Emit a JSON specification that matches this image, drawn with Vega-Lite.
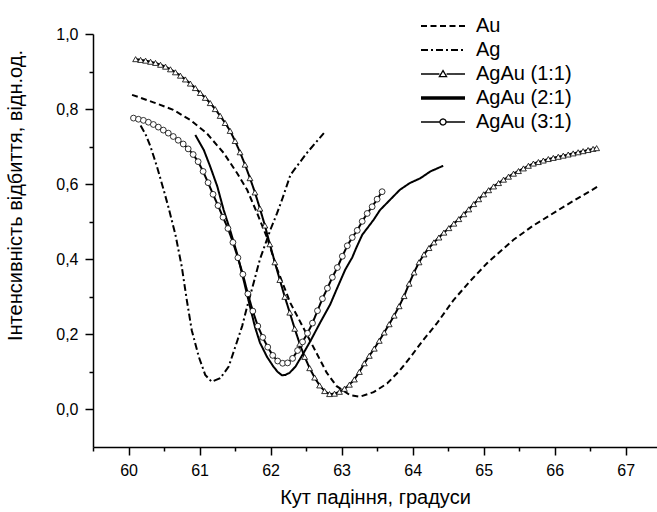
{
  "$schema": "https://vega.github.io/schema/vega-lite/v6.json",
  "autosize": "none",
  "width": 564,
  "height": 413,
  "padding": {"left": 93, "top": 34, "right": 0, "bottom": 65},
  "background": "white",
  "config": {
    "view": {"stroke": null},
    "font": "Liberation Sans",
    "axis": {"grid": false, "domainColor": "black", "domainWidth": 1.5, "tickColor": "black", "tickWidth": 1.5, "labelColor": "black", "titleColor": "black", "labelFont": "Liberation Sans", "titleFont": "Liberation Sans", "labelFontSize": 16, "titleFontSize": 20, "titleFontWeight": "normal", "labelPadding": 7}
  },
  "data": {"values": [
    {"s": "Au", "x": 60.05, "y": 0.838}, {"s": "Au", "x": 60.35, "y": 0.818}, {"s": "Au", "x": 60.63, "y": 0.798}, {"s": "Au", "x": 60.87, "y": 0.771}, {"s": "Au", "x": 61.10, "y": 0.736}, {"s": "Au", "x": 61.34, "y": 0.683}, {"s": "Au", "x": 61.53, "y": 0.629}, {"s": "Au", "x": 61.67, "y": 0.585}, {"s": "Au", "x": 61.81, "y": 0.523}, {"s": "Au", "x": 61.95, "y": 0.458}, {"s": "Au", "x": 62.09, "y": 0.375}, {"s": "Au", "x": 62.28, "y": 0.283}, {"s": "Au", "x": 62.46, "y": 0.218}, {"s": "Au", "x": 62.65, "y": 0.149}, {"s": "Au", "x": 62.79, "y": 0.098}, {"s": "Au", "x": 62.93, "y": 0.062}, {"s": "Au", "x": 63.12, "y": 0.038}, {"s": "Au", "x": 63.26, "y": 0.034}, {"s": "Au", "x": 63.45, "y": 0.046}, {"s": "Au", "x": 63.64, "y": 0.069}, {"s": "Au", "x": 63.82, "y": 0.104}, {"s": "Au", "x": 63.97, "y": 0.140}, {"s": "Au", "x": 64.15, "y": 0.185}, {"s": "Au", "x": 64.34, "y": 0.229}, {"s": "Au", "x": 64.57, "y": 0.290}, {"s": "Au", "x": 64.80, "y": 0.340}, {"s": "Au", "x": 65.05, "y": 0.390}, {"s": "Au", "x": 65.42, "y": 0.452}, {"s": "Au", "x": 65.70, "y": 0.490}, {"s": "Au", "x": 66.17, "y": 0.545}, {"s": "Au", "x": 66.60, "y": 0.593},

    {"s": "Ag", "x": 60.17, "y": 0.756}, {"s": "Ag", "x": 60.24, "y": 0.733}, {"s": "Ag", "x": 60.31, "y": 0.700}, {"s": "Ag", "x": 60.40, "y": 0.647}, {"s": "Ag", "x": 60.49, "y": 0.588}, {"s": "Ag", "x": 60.56, "y": 0.540}, {"s": "Ag", "x": 60.66, "y": 0.466}, {"s": "Ag", "x": 60.75, "y": 0.380}, {"s": "Ag", "x": 60.82, "y": 0.292}, {"s": "Ag", "x": 60.89, "y": 0.211}, {"s": "Ag", "x": 60.99, "y": 0.140}, {"s": "Ag", "x": 61.08, "y": 0.092}, {"s": "Ag", "x": 61.17, "y": 0.074}, {"s": "Ag", "x": 61.29, "y": 0.083}, {"s": "Ag", "x": 61.41, "y": 0.114}, {"s": "Ag", "x": 61.50, "y": 0.165}, {"s": "Ag", "x": 61.60, "y": 0.222}, {"s": "Ag", "x": 61.67, "y": 0.274}, {"s": "Ag", "x": 61.76, "y": 0.336}, {"s": "Ag", "x": 61.85, "y": 0.400}, {"s": "Ag", "x": 62.00, "y": 0.480}, {"s": "Ag", "x": 62.09, "y": 0.522}, {"s": "Ag", "x": 62.16, "y": 0.558}, {"s": "Ag", "x": 62.28, "y": 0.625}, {"s": "Ag", "x": 62.51, "y": 0.683}, {"s": "Ag", "x": 62.75, "y": 0.736},

    {"s": "AgAu (1:1)", "x": 60.10, "y": 0.933}, {"s": "AgAu (1:1)", "x": 60.17, "y": 0.931}, {"s": "AgAu (1:1)", "x": 60.24, "y": 0.929}, {"s": "AgAu (1:1)", "x": 60.31, "y": 0.926}, {"s": "AgAu (1:1)", "x": 60.38, "y": 0.923}, {"s": "AgAu (1:1)", "x": 60.45, "y": 0.918}, {"s": "AgAu (1:1)", "x": 60.52, "y": 0.913}, {"s": "AgAu (1:1)", "x": 60.59, "y": 0.906}, {"s": "AgAu (1:1)", "x": 60.66, "y": 0.898}, {"s": "AgAu (1:1)", "x": 60.73, "y": 0.889}, {"s": "AgAu (1:1)", "x": 60.80, "y": 0.879}, {"s": "AgAu (1:1)", "x": 60.87, "y": 0.868}, {"s": "AgAu (1:1)", "x": 60.94, "y": 0.856}, {"s": "AgAu (1:1)", "x": 61.01, "y": 0.843}, {"s": "AgAu (1:1)", "x": 61.08, "y": 0.830}, {"s": "AgAu (1:1)", "x": 61.15, "y": 0.816}, {"s": "AgAu (1:1)", "x": 61.22, "y": 0.800}, {"s": "AgAu (1:1)", "x": 61.29, "y": 0.782}, {"s": "AgAu (1:1)", "x": 61.36, "y": 0.763}, {"s": "AgAu (1:1)", "x": 61.43, "y": 0.742}, {"s": "AgAu (1:1)", "x": 61.50, "y": 0.715}, {"s": "AgAu (1:1)", "x": 61.57, "y": 0.685}, {"s": "AgAu (1:1)", "x": 61.64, "y": 0.652}, {"s": "AgAu (1:1)", "x": 61.71, "y": 0.616}, {"s": "AgAu (1:1)", "x": 61.78, "y": 0.578}, {"s": "AgAu (1:1)", "x": 61.85, "y": 0.535}, {"s": "AgAu (1:1)", "x": 61.92, "y": 0.490}, {"s": "AgAu (1:1)", "x": 61.99, "y": 0.440}, {"s": "AgAu (1:1)", "x": 62.06, "y": 0.392}, {"s": "AgAu (1:1)", "x": 62.13, "y": 0.345}, {"s": "AgAu (1:1)", "x": 62.20, "y": 0.300}, {"s": "AgAu (1:1)", "x": 62.27, "y": 0.258}, {"s": "AgAu (1:1)", "x": 62.34, "y": 0.215}, {"s": "AgAu (1:1)", "x": 62.41, "y": 0.175}, {"s": "AgAu (1:1)", "x": 62.48, "y": 0.140}, {"s": "AgAu (1:1)", "x": 62.55, "y": 0.110}, {"s": "AgAu (1:1)", "x": 62.62, "y": 0.085}, {"s": "AgAu (1:1)", "x": 62.69, "y": 0.064}, {"s": "AgAu (1:1)", "x": 62.76, "y": 0.049}, {"s": "AgAu (1:1)", "x": 62.83, "y": 0.041}, {"s": "AgAu (1:1)", "x": 62.90, "y": 0.042}, {"s": "AgAu (1:1)", "x": 62.97, "y": 0.047}, {"s": "AgAu (1:1)", "x": 63.04, "y": 0.055}, {"s": "AgAu (1:1)", "x": 63.11, "y": 0.066}, {"s": "AgAu (1:1)", "x": 63.18, "y": 0.080}, {"s": "AgAu (1:1)", "x": 63.25, "y": 0.100}, {"s": "AgAu (1:1)", "x": 63.32, "y": 0.123}, {"s": "AgAu (1:1)", "x": 63.39, "y": 0.143}, {"s": "AgAu (1:1)", "x": 63.46, "y": 0.162}, {"s": "AgAu (1:1)", "x": 63.53, "y": 0.183}, {"s": "AgAu (1:1)", "x": 63.60, "y": 0.205}, {"s": "AgAu (1:1)", "x": 63.67, "y": 0.227}, {"s": "AgAu (1:1)", "x": 63.74, "y": 0.250}, {"s": "AgAu (1:1)", "x": 63.81, "y": 0.275}, {"s": "AgAu (1:1)", "x": 63.88, "y": 0.302}, {"s": "AgAu (1:1)", "x": 63.95, "y": 0.335}, {"s": "AgAu (1:1)", "x": 64.02, "y": 0.365}, {"s": "AgAu (1:1)", "x": 64.09, "y": 0.392}, {"s": "AgAu (1:1)", "x": 64.16, "y": 0.413}, {"s": "AgAu (1:1)", "x": 64.23, "y": 0.430}, {"s": "AgAu (1:1)", "x": 64.30, "y": 0.445}, {"s": "AgAu (1:1)", "x": 64.37, "y": 0.458}, {"s": "AgAu (1:1)", "x": 64.44, "y": 0.471}, {"s": "AgAu (1:1)", "x": 64.51, "y": 0.483}, {"s": "AgAu (1:1)", "x": 64.58, "y": 0.495}, {"s": "AgAu (1:1)", "x": 64.65, "y": 0.507}, {"s": "AgAu (1:1)", "x": 64.72, "y": 0.520}, {"s": "AgAu (1:1)", "x": 64.79, "y": 0.533}, {"s": "AgAu (1:1)", "x": 64.86, "y": 0.547}, {"s": "AgAu (1:1)", "x": 64.93, "y": 0.560}, {"s": "AgAu (1:1)", "x": 65.00, "y": 0.573}, {"s": "AgAu (1:1)", "x": 65.07, "y": 0.584}, {"s": "AgAu (1:1)", "x": 65.14, "y": 0.594}, {"s": "AgAu (1:1)", "x": 65.21, "y": 0.603}, {"s": "AgAu (1:1)", "x": 65.28, "y": 0.612}, {"s": "AgAu (1:1)", "x": 65.35, "y": 0.620}, {"s": "AgAu (1:1)", "x": 65.42, "y": 0.628}, {"s": "AgAu (1:1)", "x": 65.49, "y": 0.635}, {"s": "AgAu (1:1)", "x": 65.56, "y": 0.642}, {"s": "AgAu (1:1)", "x": 65.63, "y": 0.649}, {"s": "AgAu (1:1)", "x": 65.70, "y": 0.655}, {"s": "AgAu (1:1)", "x": 65.77, "y": 0.659}, {"s": "AgAu (1:1)", "x": 65.84, "y": 0.663}, {"s": "AgAu (1:1)", "x": 65.91, "y": 0.667}, {"s": "AgAu (1:1)", "x": 65.98, "y": 0.670}, {"s": "AgAu (1:1)", "x": 66.05, "y": 0.673}, {"s": "AgAu (1:1)", "x": 66.12, "y": 0.676}, {"s": "AgAu (1:1)", "x": 66.19, "y": 0.679}, {"s": "AgAu (1:1)", "x": 66.26, "y": 0.682}, {"s": "AgAu (1:1)", "x": 66.33, "y": 0.685}, {"s": "AgAu (1:1)", "x": 66.40, "y": 0.688}, {"s": "AgAu (1:1)", "x": 66.47, "y": 0.691}, {"s": "AgAu (1:1)", "x": 66.54, "y": 0.694}, {"s": "AgAu (1:1)", "x": 66.59, "y": 0.696},

    {"s": "AgAu (2:1)", "x": 60.94, "y": 0.731}, {"s": "AgAu (2:1)", "x": 61.06, "y": 0.691}, {"s": "AgAu (2:1)", "x": 61.15, "y": 0.647}, {"s": "AgAu (2:1)", "x": 61.25, "y": 0.594}, {"s": "AgAu (2:1)", "x": 61.34, "y": 0.531}, {"s": "AgAu (2:1)", "x": 61.43, "y": 0.478}, {"s": "AgAu (2:1)", "x": 61.53, "y": 0.414}, {"s": "AgAu (2:1)", "x": 61.62, "y": 0.345}, {"s": "AgAu (2:1)", "x": 61.71, "y": 0.274}, {"s": "AgAu (2:1)", "x": 61.78, "y": 0.220}, {"s": "AgAu (2:1)", "x": 61.85, "y": 0.178}, {"s": "AgAu (2:1)", "x": 61.95, "y": 0.140}, {"s": "AgAu (2:1)", "x": 62.04, "y": 0.114}, {"s": "AgAu (2:1)", "x": 62.10, "y": 0.100}, {"s": "AgAu (2:1)", "x": 62.16, "y": 0.091}, {"s": "AgAu (2:1)", "x": 62.21, "y": 0.092}, {"s": "AgAu (2:1)", "x": 62.27, "y": 0.098}, {"s": "AgAu (2:1)", "x": 62.35, "y": 0.114}, {"s": "AgAu (2:1)", "x": 62.46, "y": 0.149}, {"s": "AgAu (2:1)", "x": 62.56, "y": 0.182}, {"s": "AgAu (2:1)", "x": 62.70, "y": 0.232}, {"s": "AgAu (2:1)", "x": 62.84, "y": 0.280}, {"s": "AgAu (2:1)", "x": 62.93, "y": 0.320}, {"s": "AgAu (2:1)", "x": 63.05, "y": 0.372}, {"s": "AgAu (2:1)", "x": 63.15, "y": 0.405}, {"s": "AgAu (2:1)", "x": 63.21, "y": 0.432}, {"s": "AgAu (2:1)", "x": 63.29, "y": 0.465}, {"s": "AgAu (2:1)", "x": 63.45, "y": 0.505}, {"s": "AgAu (2:1)", "x": 63.54, "y": 0.531}, {"s": "AgAu (2:1)", "x": 63.68, "y": 0.558}, {"s": "AgAu (2:1)", "x": 63.82, "y": 0.585}, {"s": "AgAu (2:1)", "x": 63.96, "y": 0.603}, {"s": "AgAu (2:1)", "x": 64.11, "y": 0.616}, {"s": "AgAu (2:1)", "x": 64.25, "y": 0.634}, {"s": "AgAu (2:1)", "x": 64.43, "y": 0.649},

    {"s": "AgAu (3:1)", "x": 60.07, "y": 0.776}, {"s": "AgAu (3:1)", "x": 60.14, "y": 0.773}, {"s": "AgAu (3:1)", "x": 60.21, "y": 0.770}, {"s": "AgAu (3:1)", "x": 60.28, "y": 0.765}, {"s": "AgAu (3:1)", "x": 60.35, "y": 0.759}, {"s": "AgAu (3:1)", "x": 60.42, "y": 0.752}, {"s": "AgAu (3:1)", "x": 60.49, "y": 0.744}, {"s": "AgAu (3:1)", "x": 60.56, "y": 0.736}, {"s": "AgAu (3:1)", "x": 60.63, "y": 0.727}, {"s": "AgAu (3:1)", "x": 60.70, "y": 0.717}, {"s": "AgAu (3:1)", "x": 60.77, "y": 0.707}, {"s": "AgAu (3:1)", "x": 60.84, "y": 0.694}, {"s": "AgAu (3:1)", "x": 60.91, "y": 0.679}, {"s": "AgAu (3:1)", "x": 60.98, "y": 0.660}, {"s": "AgAu (3:1)", "x": 61.05, "y": 0.634}, {"s": "AgAu (3:1)", "x": 61.12, "y": 0.604}, {"s": "AgAu (3:1)", "x": 61.19, "y": 0.573}, {"s": "AgAu (3:1)", "x": 61.26, "y": 0.543}, {"s": "AgAu (3:1)", "x": 61.33, "y": 0.512}, {"s": "AgAu (3:1)", "x": 61.40, "y": 0.482}, {"s": "AgAu (3:1)", "x": 61.47, "y": 0.445}, {"s": "AgAu (3:1)", "x": 61.54, "y": 0.404}, {"s": "AgAu (3:1)", "x": 61.61, "y": 0.360}, {"s": "AgAu (3:1)", "x": 61.68, "y": 0.308}, {"s": "AgAu (3:1)", "x": 61.75, "y": 0.262}, {"s": "AgAu (3:1)", "x": 61.82, "y": 0.222}, {"s": "AgAu (3:1)", "x": 61.89, "y": 0.192}, {"s": "AgAu (3:1)", "x": 61.96, "y": 0.166}, {"s": "AgAu (3:1)", "x": 62.03, "y": 0.144}, {"s": "AgAu (3:1)", "x": 62.10, "y": 0.129}, {"s": "AgAu (3:1)", "x": 62.17, "y": 0.123}, {"s": "AgAu (3:1)", "x": 62.24, "y": 0.124}, {"s": "AgAu (3:1)", "x": 62.31, "y": 0.136}, {"s": "AgAu (3:1)", "x": 62.38, "y": 0.157}, {"s": "AgAu (3:1)", "x": 62.45, "y": 0.180}, {"s": "AgAu (3:1)", "x": 62.52, "y": 0.203}, {"s": "AgAu (3:1)", "x": 62.59, "y": 0.230}, {"s": "AgAu (3:1)", "x": 62.66, "y": 0.263}, {"s": "AgAu (3:1)", "x": 62.73, "y": 0.295}, {"s": "AgAu (3:1)", "x": 62.80, "y": 0.323}, {"s": "AgAu (3:1)", "x": 62.87, "y": 0.352}, {"s": "AgAu (3:1)", "x": 62.94, "y": 0.378}, {"s": "AgAu (3:1)", "x": 63.01, "y": 0.408}, {"s": "AgAu (3:1)", "x": 63.08, "y": 0.436}, {"s": "AgAu (3:1)", "x": 63.15, "y": 0.458}, {"s": "AgAu (3:1)", "x": 63.22, "y": 0.477}, {"s": "AgAu (3:1)", "x": 63.29, "y": 0.501}, {"s": "AgAu (3:1)", "x": 63.36, "y": 0.522}, {"s": "AgAu (3:1)", "x": 63.43, "y": 0.540}, {"s": "AgAu (3:1)", "x": 63.50, "y": 0.560}, {"s": "AgAu (3:1)", "x": 63.57, "y": 0.580}
  ]},
  "encoding": {
    "x": {"field": "x", "type": "quantitative",
      "scale": {"domain": [59.5, 67.44], "nice": false, "zero": false},
      "axis": {"title": "Кут падіння, градуси", "values": [59.5, 60, 60.5, 61, 61.5, 62, 62.5, 63, 63.5, 64, 64.5, 65, 65.5, 66, 66.5, 67],
        "labelExpr": "abs(datum.value - round(datum.value)) < 0.01 ? format(datum.value, 'd') : ''",
        "tickSize": {"condition": {"test": "abs(datum.value - round(datum.value)) < 0.01", "value": 8}, "value": 4},
        "titlePadding": 9}},
    "y": {"field": "y", "type": "quantitative",
      "scale": {"domain": [-0.1, 1.0], "nice": false, "zero": false},
      "axis": {"title": "Інтенсивність відбиття, відн.од.", "values": [0, 0.1, 0.2, 0.3, 0.4, 0.5, 0.6, 0.7, 0.8, 0.9, 1.0],
        "labelExpr": "abs(datum.value*5 - round(datum.value*5)) < 0.01 ? replace(format(datum.value, '.1f'), '.', ',') : ''",
        "tickSize": {"condition": {"test": "abs(datum.value*5 - round(datum.value*5)) < 0.01", "value": 8}, "value": 4},
        "titleX": -68, "titleY": 161}}
  },
  "layer": [
    {
      "mark": {"type": "line", "color": "black", "strokeWidth": 2},
      "encoding": {
        "strokeDash": {"field": "s", "type": "nominal",
          "scale": {"domain": ["Au", "Ag", "AgAu (1:1)", "AgAu (2:1)", "AgAu (3:1)"], "range": [[6, 3.5], [7, 3, 2, 3], [1, 0], [1, 0], [1, 0]]},
          "legend": {"title": null, "orient": "none", "legendX": 328, "legendY": -18, "padding": 0,
            "labelFont": "Liberation Sans", "labelFontSize": 20, "labelColor": "black", "labelOffset": 35,
            "symbolSize": 400, "symbolStrokeColor": "black", "symbolFillColor": "white", "rowPadding": 4,
            "encode": {"symbols": {"update": {
              "shape": {"signal": "datum.value === 'AgAu (1:1)' ? 'M-1,0H0.84M1.56,0H3.4M1.2,-0.34L1.56,0.26L0.84,0.26Z' : datum.value === 'AgAu (3:1)' ? 'M-1,0H0.9M1.5,0H3.4M1.5,0A0.3,0.3,0,1,1,0.9,0A0.3,0.3,0,1,1,1.5,0' : 'M-1,0H3.4'"},
              "strokeWidth": {"signal": "datum.value === 'AgAu (2:1)' ? 3.5 : datum.value === 'AgAu (1:1)' || datum.value === 'AgAu (3:1)' ? 1.3 : 2"},
              "fill": {"value": "white"},
              "stroke": {"value": "black"}}}}}},
        "strokeWidth": {"condition": {"test": "datum.s === 'AgAu (2:1)'", "value": 3.5}, "value": 2}
      }
    },
    {
      "transform": [{"filter": "datum.s === 'AgAu (1:1)' || datum.s === 'AgAu (3:1)'"}],
      "mark": {"type": "point", "filled": false, "fill": "white", "fillOpacity": 1, "stroke": "black", "strokeWidth": 0.8, "opacity": 1, "size": 34},
      "encoding": {
        "shape": {"field": "s", "type": "nominal", "scale": {"domain": ["AgAu (1:1)", "AgAu (3:1)"], "range": ["triangle-up", "circle"]}, "legend": null}
      }
    }
  ]
}
